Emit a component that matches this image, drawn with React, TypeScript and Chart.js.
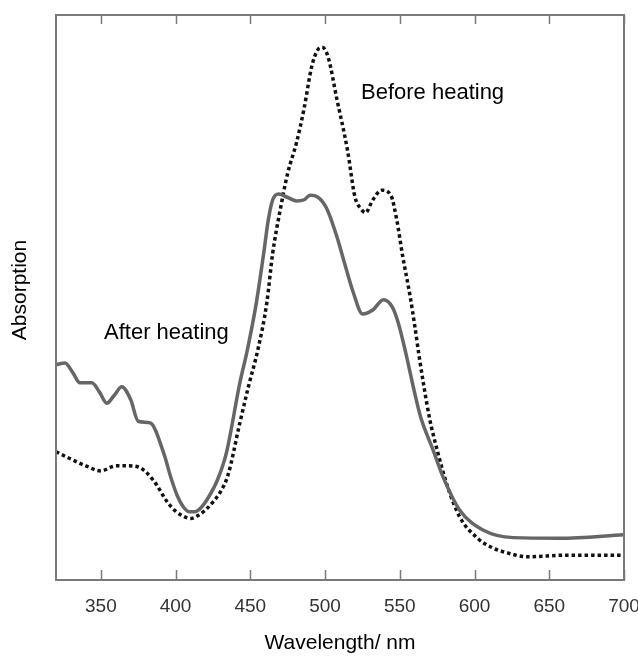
import React, { useEffect, useRef } from "react";
import { Chart, registerables } from "chart.js";

Chart.register(...registerables);

const afterWl = [320, 326, 331, 336, 344, 349, 354, 359, 364, 370, 375, 383, 392, 397, 401, 405, 409, 413, 417, 421, 428, 434, 443, 448, 454, 459, 462, 465, 469, 475, 481, 486, 490, 495, 501, 508, 513, 519, 525, 532, 539, 545, 549, 554, 559, 564, 572, 579, 590, 606, 626, 657, 700];
const afterAbs = [38.1, 38.4, 36.8, 34.9, 34.9, 33.3, 31.3, 32.7, 34.2, 31.9, 28.1, 27.8, 22.5, 18.0, 15.0, 13.0, 12.1, 12.1, 12.8, 14.2, 17.7, 22.5, 34.9, 40.7, 49.0, 57.9, 63.7, 67.3, 68.3, 67.7, 67.1, 67.3, 68.1, 67.8, 65.8, 60.7, 56.1, 50.8, 47.1, 47.8, 49.6, 48.3, 45.5, 40.2, 34.2, 28.8, 23.2, 18.2, 12.4, 8.8, 7.5, 7.4, 8.0];

const beforeWl = [320, 330, 340, 350, 360, 368, 375, 385, 395, 400, 405, 410, 415, 420, 425, 430, 435, 443, 449, 455, 461, 465, 470, 475, 481, 486, 491, 495, 498, 502, 508, 515, 520, 524, 527, 532, 538, 544, 548, 552, 557, 560, 563, 566, 570, 575, 582, 590, 602, 612, 622, 635, 662, 700];
const beforeAbs = [22.7, 21.4, 20.2, 19.3, 20.2, 20.2, 20.0, 17.7, 13.6, 12.2, 11.3, 10.9, 11.4, 12.4, 13.8, 15.6, 18.5, 27.8, 34.5, 40.7, 49.0, 57.9, 65.5, 72.0, 77.5, 83.5, 90.8, 93.8, 94.3, 92.6, 85.0, 76.1, 67.8, 65.7, 65.0, 67.3, 69.0, 68.1, 63.7, 57.2, 50.1, 45.0, 39.5, 34.5, 28.5, 23.0, 16.5, 11.2, 7.4, 5.7, 4.8, 4.1, 4.4, 4.4];

const xTicks = [350, 400, 450, 500, 550, 600, 650, 700];
const xTitle = "Wavelength/ nm";
const yTitle = "Absorption";
const labelBefore = "Before heating";
const labelAfter = "After heating";

const framePlugin = {
  id: "frame",
  afterDraw(chart: any) {
    const { ctx, chartArea } = chart;
    const xs = chart.scales.x;
    const { left, right, top, bottom } = chartArea;
    ctx.save();
    ctx.strokeStyle = "#7a7a7a";
    ctx.lineWidth = 2;
    ctx.beginPath();
    ctx.rect(left, top, right - left, bottom - top);
    ctx.stroke();
    ctx.beginPath();
    for (const t of xTicks) {
      const px = Math.round(xs.getPixelForValue(t)) + 0.5;
      ctx.moveTo(px, bottom);
      ctx.lineTo(px, bottom - 10);
      ctx.moveTo(px, top);
      ctx.lineTo(px, top + 9);
    }
    ctx.lineWidth = 1.5;
    ctx.stroke();

    ctx.fillStyle = "#333333";
    ctx.font = "19px 'Liberation Sans', Arial, sans-serif";
    ctx.textAlign = "center";
    ctx.textBaseline = "middle";
    for (const t of xTicks) {
      ctx.fillText(String(t), xs.getPixelForValue(t), 607);
    }
    ctx.fillStyle = "#000000";
    ctx.font = "21px 'Liberation Sans', Arial, sans-serif";
    ctx.fillText(xTitle, (left + right) / 2, 643);

    ctx.save();
    ctx.translate(20, 290);
    ctx.rotate(-Math.PI / 2);
    ctx.fillText(yTitle, 0, 0);
    ctx.restore();

    ctx.font = "22px 'Liberation Sans', Arial, sans-serif";
    ctx.textAlign = "left";
    ctx.fillText(labelBefore, 361, 93);
    ctx.fillText(labelAfter, 104, 333);
    ctx.restore();
  },
};

export default function App() {
  const ref = useRef<HTMLCanvasElement>(null);
  useEffect(() => {
    if (!ref.current) return;
    const chart = new Chart(ref.current, {
      type: "line",
      data: {
        datasets: [
          {
            label: labelAfter,
            data: afterWl.map((x, i) => ({ x, y: afterAbs[i] })),
            borderColor: "#666666",
            borderWidth: 3.5,
            pointRadius: 0,
            cubicInterpolationMode: "monotone",
            fill: false,
          },
          {
            label: labelBefore,
            data: beforeWl.map((x, i) => ({ x, y: beforeAbs[i] })),
            borderColor: "#111111",
            borderWidth: 3.5,
            borderDash: [3.5, 3],
            pointRadius: 0,
            cubicInterpolationMode: "monotone",
            fill: false,
          },
        ],
      },
      options: {
        responsive: false,
        animation: false,
        layout: { padding: { left: 56, right: 14, top: 15, bottom: 76 } },
        plugins: { legend: { display: false }, tooltip: { enabled: false } },
        scales: {
          x: { type: "linear", min: 320, max: 700, display: false },
          y: { min: 0, max: 100, display: false },
        },
      },
      plugins: [framePlugin],
    });
    return () => chart.destroy();
  }, []);
  return (
    <div style={{ position: "fixed", left: 0, top: 0, width: 638, height: 656, background: "#fff" }}>
      <canvas ref={ref} width={638} height={656} />
    </div>
  );
}
